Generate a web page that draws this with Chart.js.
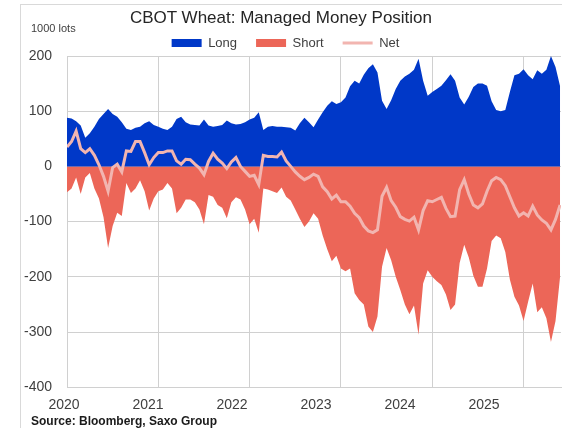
<!DOCTYPE html>
<html>
<head>
<meta charset="utf-8">
<script src="https://cdn.jsdelivr.net/npm/chart.js@4.4.1/dist/chart.umd.min.js"></script>
<style>
	body { margin: 0; background: #fff; font-family: 'Liberation Sans', Arial, sans-serif; }
	#wrap { position: relative; width: 562px; height: 428px; overflow: hidden; }
	#frame { position: absolute; left: 20px; top: 4px; right: -5px; bottom: -5px; border-left: 1px solid #d9d9d9; border-top: 1px solid #d9d9d9; }
	#title { position: absolute; left: 0; top: 8px; width: 562px; text-align: center; font-size: 17px; line-height: 20px; color: #262626; }
	#unit { position: absolute; left: 31px; top: 21px; font-size: 11px; line-height: 14px; color: #404040; }
	#source { position: absolute; left: 31px; top: 414px; font-size: 12px; line-height: 14px; font-weight: bold; color: #1a1a1a; }
	canvas { position: absolute; left: 0; top: 0; }
</style>
</head>
<body>
<div id="wrap">
	<div id="frame"></div>
	<canvas id="chart" width="562" height="428"></canvas>
	<div id="title">CBOT Wheat: Managed Money Position</div>
	<div id="unit">1000 lots</div>
	<div id="source">Source: Bloomberg, Saxo Group</div>
</div>
<script>
// weekly COT positions, sampled every ~2.5 weeks (decimal years)
const dates = [
	2020.00, 2020.05, 2020.10, 2020.15, 2020.20, 2020.25, 2020.30, 2020.35, 2020.40, 2020.45,
	2020.50, 2020.55, 2020.60, 2020.65, 2020.70, 2020.75, 2020.80, 2020.85, 2020.90, 2020.95,
	2021.00, 2021.05, 2021.10, 2021.15, 2021.20, 2021.25, 2021.30, 2021.35, 2021.40, 2021.45,
	2021.50, 2021.55, 2021.60, 2021.65, 2021.70, 2021.75, 2021.80, 2021.85, 2021.90, 2021.95,
	2022.00, 2022.05, 2022.10, 2022.15, 2022.20, 2022.25, 2022.30, 2022.35, 2022.40, 2022.45,
	2022.50, 2022.55, 2022.60, 2022.65, 2022.70, 2022.75, 2022.80, 2022.85, 2022.90, 2022.95,
	2023.00, 2023.05, 2023.10, 2023.15, 2023.20, 2023.25, 2023.30, 2023.35, 2023.40, 2023.45,
	2023.50, 2023.55, 2023.60, 2023.65, 2023.70, 2023.75, 2023.80, 2023.85, 2023.90, 2023.95,
	2024.00, 2024.05, 2024.10, 2024.15, 2024.20, 2024.25, 2024.30, 2024.35, 2024.40, 2024.45,
	2024.50, 2024.55, 2024.60, 2024.65, 2024.70, 2024.75, 2024.80, 2024.85, 2024.90, 2024.95,
	2025.00, 2025.05, 2025.10, 2025.15, 2025.20, 2025.25, 2025.30, 2025.35, 2025.40
];

const longPos = [
	88, 87, 82, 74, 52, 60, 72, 86, 95, 104,
	95, 90, 80, 68, 66, 70, 72, 78, 82, 75,
	72, 68, 66, 72, 86, 90, 80, 76, 75, 74,
	85, 74, 72, 73, 75, 83, 78, 76, 77, 80,
	85, 88, 98, 66, 72, 73, 72, 72, 71, 70,
	65, 78, 88, 80, 71, 85, 98, 110, 118, 113,
	116, 125, 145, 155, 150, 166, 178, 185, 170, 119,
	104, 120, 140, 155, 163, 168, 175, 195, 155, 128,
	135, 140, 146, 156, 167, 155, 125, 112, 126, 144,
	150, 150, 146, 118, 102, 100, 102, 135, 165, 168,
	176, 165, 158, 174, 168, 175, 200, 180, 145
];

const shortPos = [
	-47, -40, -20, -50, -20, -12, -40, -58, -92, -148,
	-108, -84, -90, -30, -48, -40, -25, -45, -80, -58,
	-45, -42, -30, -40, -85, -75, -60, -60, -65, -78,
	-105, -52, -55, -70, -75, -94, -65, -56, -60, -78,
	-105, -95, -120, -40, -42, -45, -48, -38, -55, -62,
	-78, -95, -110, -100, -85, -95, -125, -150, -172, -162,
	-185, -190, -185, -230, -242, -250, -290, -300, -272, -182,
	-148, -170, -200, -224, -250, -268, -252, -305, -212, -188,
	-200, -208, -215, -232, -260, -250, -175, -142, -165, -198,
	-218, -218, -185, -135, -125, -130, -155, -205, -236, -252,
	-280, -245, -212, -264, -255, -275, -318, -280, -200
];

const netPos = [
	35, 45, 64, 32, 25, 32, 20, 3, -18, -45,
	-2, 4, -10, 28, 27, 45, 45, 25, 3, 16,
	25, 25, 28, 28, 10, 4, 13, 12, 4, -3,
	-15, 9, 24, 13, 6, -4, 8, 16, 0, -9,
	-18, -16, -33, 20, 18, 18, 17, 26, 10, 0,
	-10, -18, -24, -20, -14, -18, -37, -46, -59, -52,
	-64, -64, -72, -85, -93, -108, -117, -120, -115, -54,
	-38, -62, -74, -91, -96, -99, -92, -115, -80, -62,
	-64, -60, -56, -76, -91, -90, -42, -24, -50, -70,
	-75, -68, -45, -26, -20, -24, -35, -55, -75, -90,
	-84, -90, -72, -88, -97, -103, -115, -96, -70
];

const seriesNames = ['Long', 'Short', 'Net'];

Chart.defaults.font.family = "'Liberation Sans', Arial, sans-serif";

function pts(vals) {
	return dates.map((d, i) => ({ x: d, y: vals[i] }));
}

function chartIt() {
	const ctx = document.getElementById('chart').getContext('2d');
	const gridColor = '#d0d0d0';
	const myChart = new Chart(ctx, {
		type: 'line',
		data: {
			datasets: [
				{
					label: seriesNames[0],
					data: pts(longPos),
					backgroundColor: '#0038c8',
					borderColor: 'transparent',
					borderWidth: 0,
					fill: 'origin',
					pointStyle: 'rect',
					order: 1,
				},
				{
					label: seriesNames[1],
					data: pts(shortPos),
					backgroundColor: '#ec6658',
					borderColor: 'transparent',
					borderWidth: 0,
					fill: 'origin',
					pointStyle: 'rect',
					order: 1,
				},
				{
					label: seriesNames[2],
					data: pts(netPos),
					backgroundColor: '#f2b5b0',
					borderColor: '#f2b5b0',
					borderWidth: 3,
					fill: false,
					pointStyle: 'line',
					order: 0,
				},
			],
		},
		options: {
			responsive: false,
			animation: false,
			devicePixelRatio: 1,
			elements: {
				point: { radius: 0 },
				line: { tension: 0 },
			},
			layout: {
				padding: { top: 17.5, left: 10, right: 1, bottom: 4 },
			},
			plugins: {
				tooltip: { enabled: false },
				legend: {
					position: 'top',
					maxHeight: 38.5,
					labels: {
						usePointStyle: true,
						pointStyleWidth: 30,
						boxHeight: 8,
						padding: 19,
						color: '#404040',
						font: { size: 13 },
						sort: (a, b) => a.datasetIndex - b.datasetIndex,
					},
				},
			},
			scales: {
				x: {
					type: 'linear',
					min: 2020,
					max: 2025.41,
					weight: 0,
					grid: { color: gridColor, drawTicks: false },
					border: { color: gridColor },
					ticks: { display: false, stepSize: 1, includeBounds: false },
				},
				x2: {
					type: 'linear',
					position: 'bottom',
					min: 2020,
					max: 2025.88,
					weight: 1,
					grid: { display: false, drawTicks: false },
					border: { display: false },
					ticks: {
						stepSize: 1,
						includeBounds: false,
						autoSkip: false,
						maxRotation: 0,
						labelOffset: -3,
						padding: 10,
						color: '#404040',
						font: { size: 14 },
						callback: (v) => String(v),
					},
				},
				y: {
					min: -400,
					max: 200,
					afterFit: (s) => { s.width = 57; },
					grid: { color: gridColor, drawTicks: false },
					border: { color: gridColor },
					ticks: {
						stepSize: 100,
						padding: 15,
						color: '#404040',
						font: { size: 14 },
					},
				},
			},
		},
	});
}

chartIt();
</script>
</body>
</html>
